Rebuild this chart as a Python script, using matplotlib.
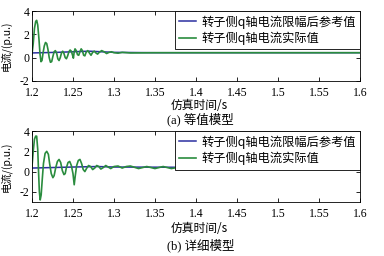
import matplotlib
matplotlib.use('Agg')
import numpy as np
import matplotlib.pyplot as plt

plt.rcParams['axes.unicode_minus'] = False

# time axis ticks and labels
x_ticks = [1.2, 1.25, 1.3, 1.35, 1.4, 1.45, 1.5, 1.55, 1.6]
x_ticklabels = ['1.2', '1.25', '1.3', '1.35', '1.4', '1.45', '1.5', '1.55', '1.6']
y_ticks = [-2, 0, 2, 4]

legend_labels = ['转子侧q轴电流限幅后参考值', '转子侧q轴电流实际值']
captions = ['(a) 等值模型', '(b) 详细模型']
xlabel = '仿真时间/s'
ylabel = '电流/(p.u.)'

# (a) equivalent model - reference (blue)
t_ref_a = [1.2, 1.23, 1.25, 1.27, 1.3, 1.35, 1.6]
v_ref_a = [0.4, 0.45, 0.5, 0.55, 0.45, 0.42, 0.42]

# (a) equivalent model - actual (green)
t_act_a = [1.2, 1.2015, 1.203, 1.2045, 1.2057, 1.207, 1.2085, 1.2098, 1.211, 1.2122,
           1.2135, 1.215, 1.2165, 1.218, 1.2195, 1.221, 1.2225, 1.224, 1.2255, 1.227,
           1.2285, 1.23, 1.2315, 1.233, 1.2345, 1.236, 1.2375, 1.239, 1.2405, 1.242,
           1.2435, 1.245, 1.2465, 1.248, 1.2495, 1.2505, 1.2515, 1.2525, 1.254, 1.2555,
           1.257, 1.2585, 1.26, 1.2615, 1.263, 1.2645, 1.266, 1.268, 1.27, 1.272,
           1.274, 1.276, 1.278, 1.28, 1.282, 1.285, 1.288, 1.291, 1.294, 1.297,
           1.3, 1.305, 1.31, 1.32, 1.35, 1.6]
v_act_a = [0.3, 1.2, 2.5, 3.1, 3.2, 2.8, 1.6, 0.3, -0.35, -0.25,
           0.4, 1.0, 1.3, 1.2, 0.7, 0.0, -0.4, -0.35, 0.1, 0.5,
           0.6, 0.4, -0.1, -0.25, 0.0, 0.4, 0.55, 0.35, 0.0, -0.1,
           0.15, 0.5, 0.65, 0.55, 0.2, -0.05, 0.5, 0.75, 0.6, 0.25,
           0.2, 0.5, 0.75, 0.6, 0.2, 0.15, 0.45, 0.6, 0.4, 0.2,
           0.45, 0.55, 0.4, 0.3, 0.45, 0.6, 0.5, 0.35, 0.45, 0.5,
           0.42, 0.38, 0.45, 0.4, 0.42, 0.42]

# (b) detailed model - reference (blue)
t_ref_b = [1.2, 1.25, 1.28, 1.3, 1.4, 1.6]
v_ref_b = [0.35, 0.45, 0.5, 0.45, 0.42, 0.4]

# (b) detailed model - actual (green)
t_act_b = [1.2, 1.2015, 1.203, 1.2045, 1.2057, 1.207, 1.208, 1.209, 1.21, 1.2112,
           1.2125, 1.214, 1.216, 1.218, 1.22, 1.2215, 1.2235, 1.2255, 1.227, 1.229,
           1.231, 1.233, 1.235, 1.237, 1.239, 1.2405, 1.242, 1.244, 1.246, 1.248,
           1.25, 1.2515, 1.2528, 1.2545, 1.2565, 1.2585, 1.2605, 1.2625, 1.2645, 1.2665,
           1.269, 1.2715, 1.274, 1.2765, 1.279, 1.2815, 1.284, 1.287, 1.29, 1.293,
           1.296, 1.3, 1.305, 1.31, 1.315, 1.32, 1.33, 1.34, 1.35, 1.36,
           1.37, 1.38, 1.39, 1.4, 1.42, 1.44, 1.46, 1.6]
v_act_b = [0.5, 2.0, 3.2, 3.5, 3.5, 2.2, 0.0, -2.0, -2.8, -2.3,
           -0.8, 0.8, 1.8, 2.0, 1.7, 0.8, -0.2, -0.6, -0.4, 0.4,
           1.0, 1.2, 0.9, 0.1, -0.3, -0.2, 0.4, 0.9, 1.0, 0.6,
           -0.2, -1.3, -0.4, 0.6, 1.1, 1.2, 0.8, 0.2, 0.0, 0.3,
           0.6, 0.5, 0.2, 0.35, 0.6, 0.5, 0.25, 0.4, 0.6, 0.45,
           0.3, 0.5, 0.55, 0.35, 0.5, 0.55, 0.3, 0.5, 0.3, 0.5,
           0.3, 0.45, 0.3, 0.45, 0.35, 0.45, 0.4, 0.42]

serif = ['Liberation Serif', 'Noto Sans CJK SC']
cjk = ['Noto Sans CJK SC', 'Liberation Serif']
blue = '#2b2fa0'
green = '#2a8c3e'

fig = plt.figure(figsize=(3.84, 2.56), dpi=100)
ax_a = fig.add_axes([0.0833, 0.684, 0.854, 0.273])
ax_b = fig.add_axes([0.0833, 0.211, 0.854, 0.277])

panels = [
    (ax_a, t_ref_a, v_ref_a, t_act_a, v_act_a, (-2, 4), 0.588, 0.533, captions[0]),
    (ax_b, t_ref_b, v_ref_b, t_act_b, v_act_b, (-3, 4), 0.108, 0.04, captions[1]),
]

for ax, tr, vr, ta, va, ylim, xl_y, cap_y, cap in panels:
    ax.plot(tr, vr, color=blue, lw=1.1, label=legend_labels[0])
    ax.plot(ta, va, color=green, lw=1.2, label=legend_labels[1])
    ax.set_xlim(1.2, 1.6)
    ax.set_ylim(*ylim)
    ax.set_xticks(x_ticks)
    ax.set_xticklabels(x_ticklabels, family=serif, fontsize=8.5)
    ax.set_yticks(y_ticks)
    ax.set_yticklabels([str(v) for v in y_ticks], family=serif, fontsize=8.5)
    ax.tick_params(direction='in', top=True, right=True, length=3, width=0.6)
    ax.tick_params(axis='x', pad=4.5)
    ax.tick_params(axis='y', pad=2)
    for s in ax.spines.values():
        s.set_linewidth(0.6)
    ax.set_ylabel(ylabel, family=cjk, fontsize=7.5)
    ax.yaxis.set_label_coords(-0.062, 0.5)
    leg = ax.legend(loc='upper right', borderaxespad=0, fancybox=False,
                    prop={'family': cjk, 'size': 8.8}, handlelength=1.4,
                    handletextpad=0.4, labelspacing=0.25, borderpad=0.35,
                    framealpha=1)
    leg.get_frame().set_edgecolor('black')
    leg.get_frame().set_linewidth(0.6)
    fig.text(0.52, xl_y, xlabel, family=cjk, fontsize=8.5, ha='center', va='center')
    fig.text(0.522, cap_y, cap, family=serif, fontsize=9, ha='center', va='center')

fig.savefig('out.png', dpi=100)
